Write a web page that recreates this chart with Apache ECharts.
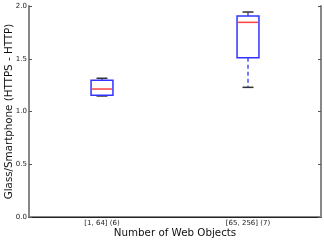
<!DOCTYPE html>
<html><head><meta charset="utf-8">
<script src="https://cdn.jsdelivr.net/npm/echarts@6/dist/echarts.min.js"></script>
<style>html,body{margin:0;padding:0;background:#fff}#c{width:324px;height:242px}</style>
</head><body><div id="c"></div>
<script>
var categories = ['[1, 64] (6)', '[65, 256] (7)'];
// [lowerWhisker, q1, median, q3, upperWhisker]
var box1 = [1.147, 1.153, 1.213, 1.296, 1.315];
var box2 = [1.229, 1.51, 1.845, 1.905, 1.943];
var yTicks = [0, 0.5, 1.0, 1.5, 2.0];

var boxes = [[0].concat(box1), [1].concat(box2)];
var font = 'DejaVu Sans';
var chart = echarts.init(document.getElementById('c'), null, {renderer: 'canvas'});
chart.setOption({
  animation: false,
  grid: {left: 29, right: 3, top: 6, bottom: 25, containLabel: false, outerBoundsMode: 'none'},
  xAxis: [{
    type: 'category', data: categories, position: 'bottom',
    axisLine: {lineStyle: {color: '#888', width: 2}},
    axisTick: {inside: true, alignWithLabel: true, length: 3, lineStyle: {color: '#555'}},
    axisLabel: {fontFamily: font, fontSize: 7, color: '#222', margin: 3},
    name: 'Number of Web Objects', nameLocation: 'middle', nameGap: 11, nameMoveOverlap: false,
    nameTextStyle: {fontFamily: font, fontSize: 10.3, color: '#111'}
  }, {
    type: 'category', data: categories, position: 'top',
    axisLine: {lineStyle: {color: '#222', width: 1}},
    axisTick: {inside: true, alignWithLabel: true, length: 3, lineStyle: {color: '#555'}},
    axisLabel: {show: false}
  }],
  yAxis: [{
    type: 'value', min: yTicks[0], max: yTicks[yTicks.length - 1], interval: 0.5, position: 'left',
    axisLine: {show: true, lineStyle: {color: '#888', width: 2}},
    axisTick: {show: true, inside: true, length: 3, lineStyle: {color: '#555'}},
    splitLine: {show: false},
    axisLabel: {fontFamily: font, fontSize: 7, color: '#222', margin: 2,
      formatter: function (v) { return v.toFixed(1); }},
    name: 'Glass/Smartphone (HTTPS - HTTP)', nameLocation: 'middle', nameGap: 15, nameRotate: 90,
    nameMoveOverlap: false,
    nameTextStyle: {fontFamily: font, fontSize: 10.3, color: '#111'}
  }, {
    type: 'value', min: yTicks[0], max: yTicks[yTicks.length - 1], interval: 0.5, position: 'right',
    axisLine: {show: true, lineStyle: {color: '#888', width: 2}},
    axisTick: {show: true, inside: true, length: 3, lineStyle: {color: '#555'}},
    splitLine: {show: false}, axisLabel: {show: false}
  }],
  series: [{
    type: 'custom', xAxisIndex: 0, yAxisIndex: 0,
    data: boxes,
    renderItem: function (params, api) {
      var x = api.value(0);
      var lw = api.value(1), q1 = api.value(2), med = api.value(3), q3 = api.value(4), uw = api.value(5);
      var bw = api.size([1, 0])[0] * 0.15;
      var cw = bw * 0.5;
      var pLw = api.coord([x, lw]), pQ1 = api.coord([x, q1]), pMed = api.coord([x, med]),
          pQ3 = api.coord([x, q3]), pUw = api.coord([x, uw]);
      var cx = pQ1[0];
      return {type: 'group', children: [
        {type: 'line', shape: {x1: cx, y1: pQ3[1], x2: cx, y2: pUw[1]},
          style: {stroke: '#7a7aff', lineWidth: 2, lineDash: [4, 3]}},
        {type: 'line', shape: {x1: cx, y1: pQ1[1], x2: cx, y2: pLw[1]},
          style: {stroke: '#7a7aff', lineWidth: 2, lineDash: [4, 3]}},
        {type: 'line', shape: {x1: cx - cw / 2, y1: pUw[1], x2: cx + cw / 2, y2: pUw[1]},
          style: {stroke: '#333', lineWidth: 1.5}},
        {type: 'line', shape: {x1: cx - cw / 2, y1: pLw[1], x2: cx + cw / 2, y2: pLw[1]},
          style: {stroke: '#333', lineWidth: 1.5}},
        {type: 'rect', shape: {x: cx - bw / 2, y: pQ3[1], width: bw, height: pQ1[1] - pQ3[1]},
          style: {fill: '#fff', stroke: '#3333ff', lineWidth: 1.5}},
        {type: 'line', shape: {x1: cx - bw / 2 + 1, y1: pMed[1], x2: cx + bw / 2 - 1, y2: pMed[1]},
          style: {stroke: '#ff4040', lineWidth: 1.5}}
      ]};
    }
  }]
});
</script></body></html>
